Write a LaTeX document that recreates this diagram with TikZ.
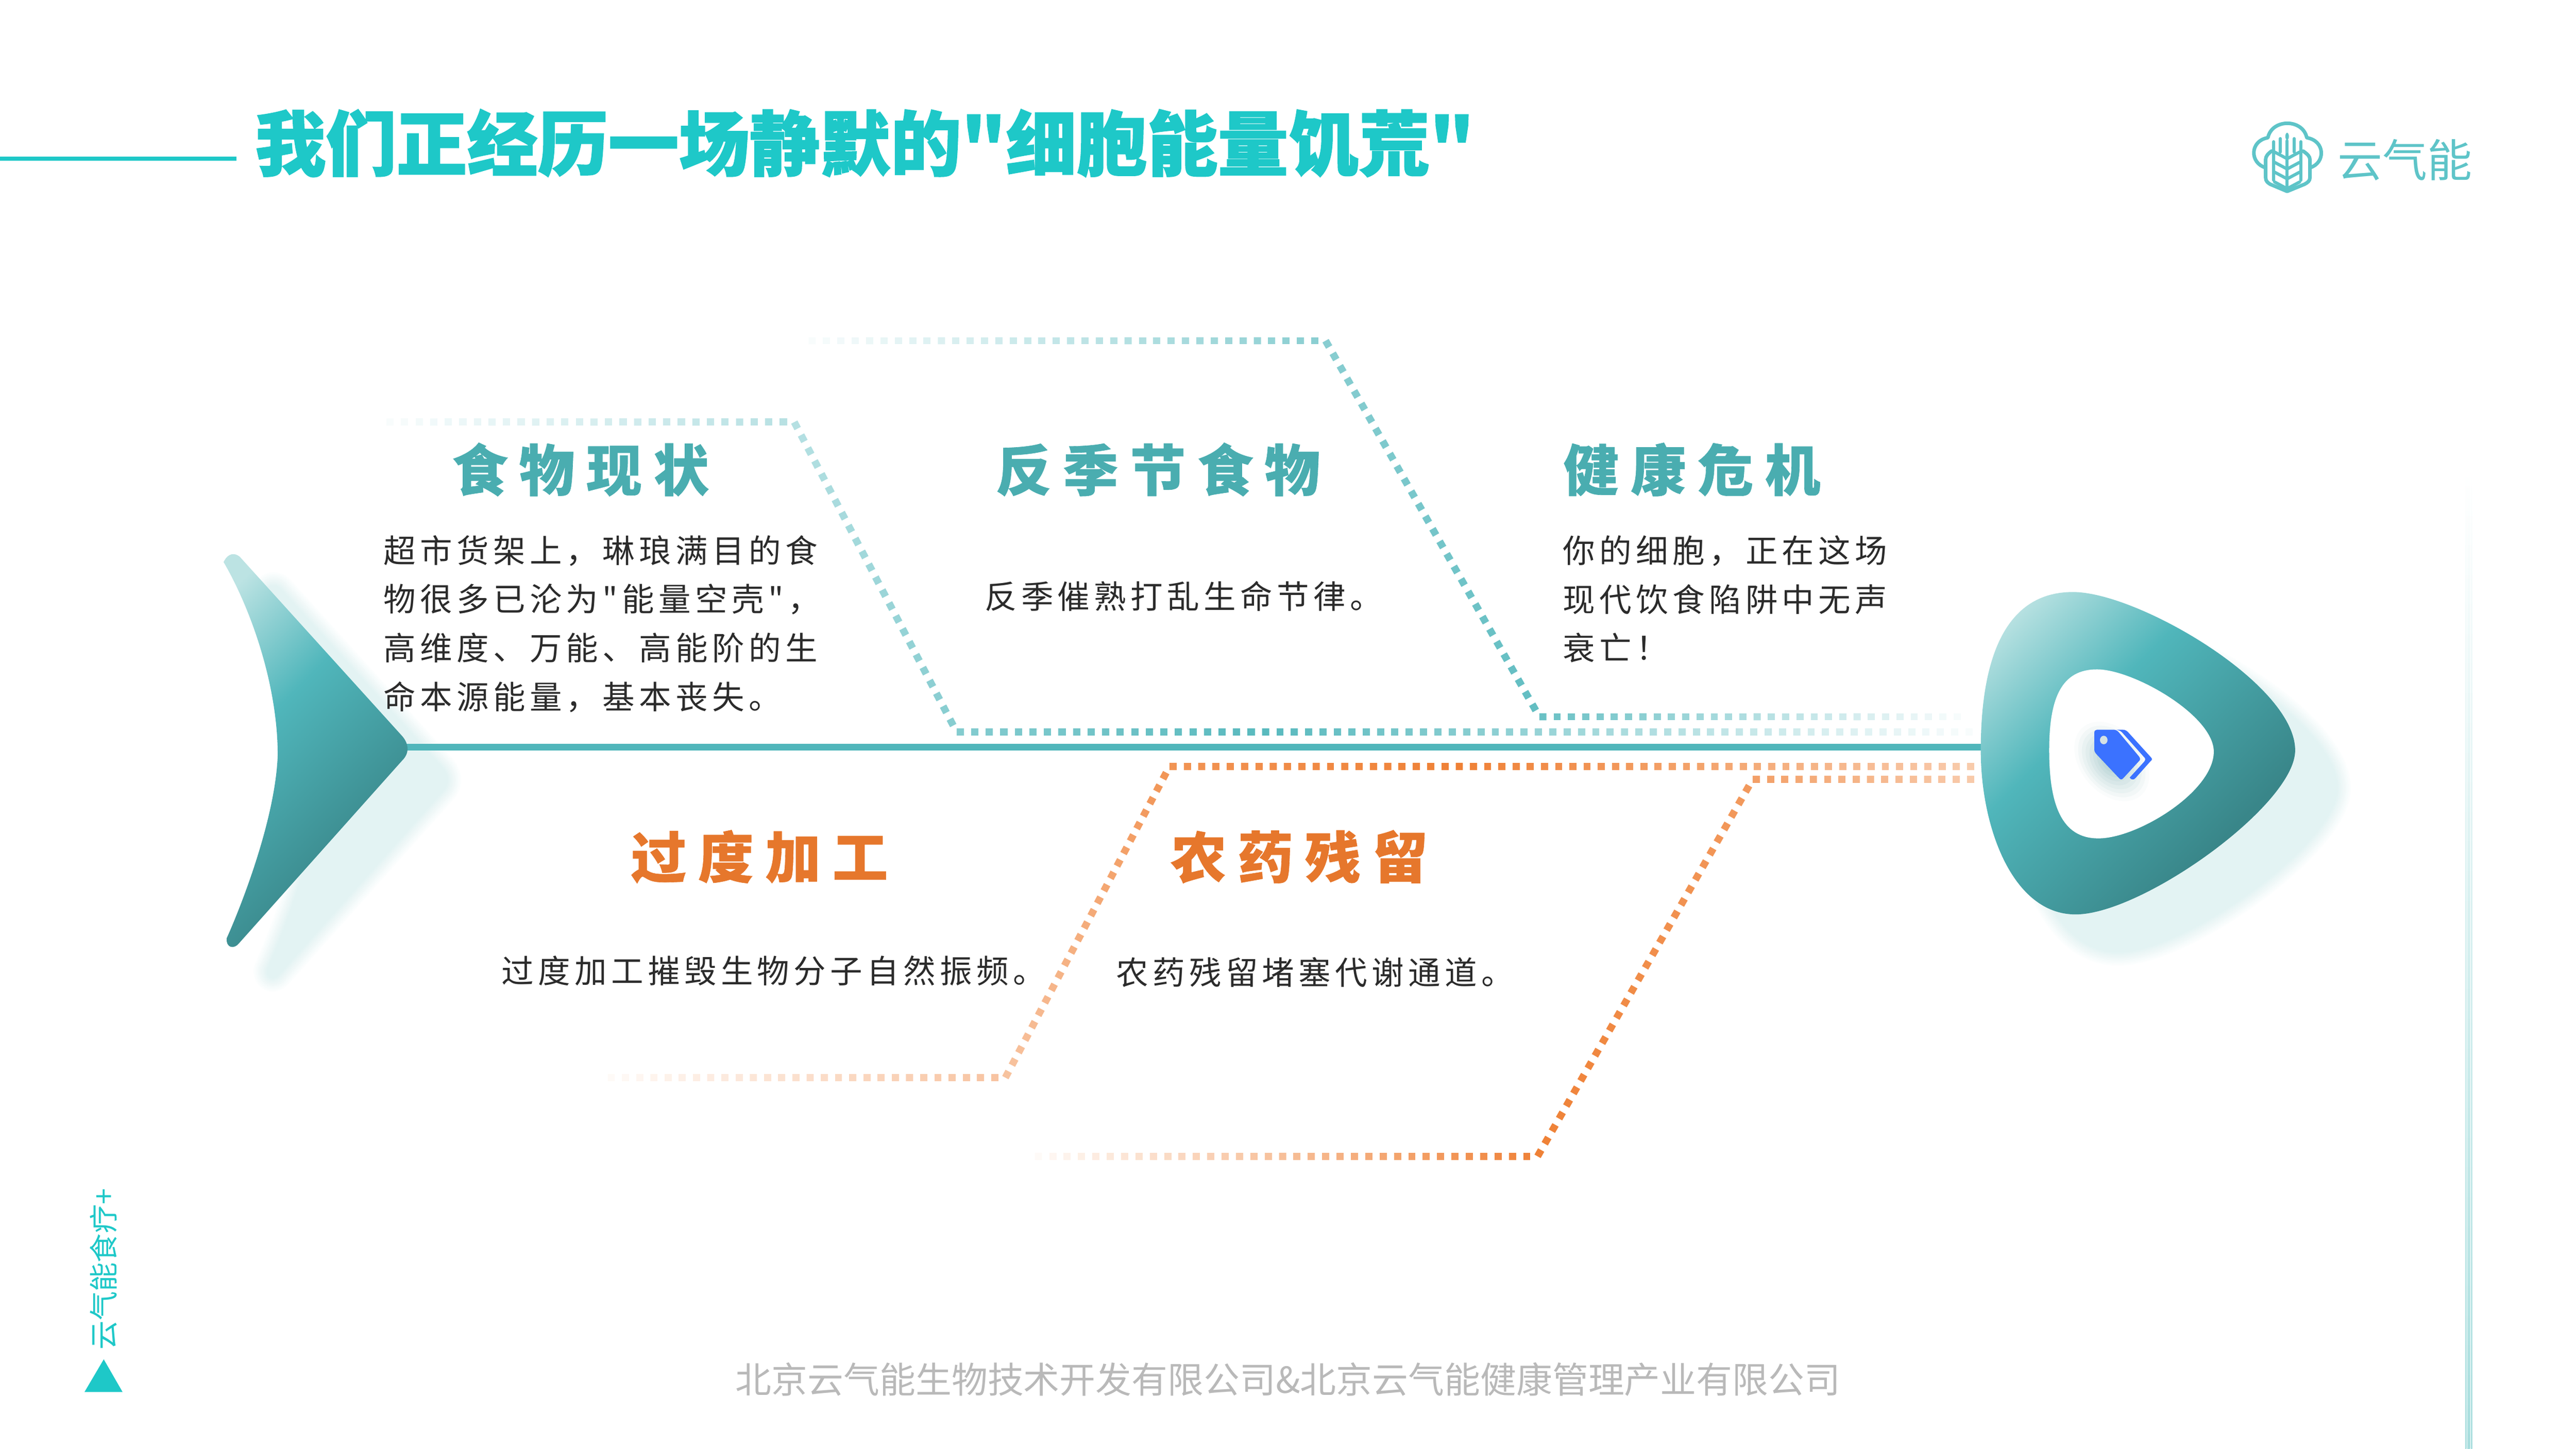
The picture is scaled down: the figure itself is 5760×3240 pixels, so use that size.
\documentclass[tikz,border=0pt]{standalone}
\usepackage{fontspec}
\usepackage{xcolor}
\setmainfont{Noto Sans CJK SC}
\newfontfamily\titlefont{Noto Sans CJK SC}[BoldFeatures={FakeBold=1.5}]
\newfontfamily\headfont{Noto Sans CJK SC}[LetterSpace=21,BoldFeatures={FakeBold=0.6}]
\newfontfamily\bodyfont{Noto Sans CJK SC}[LetterSpace=13.3]
\definecolor{brand}{RGB}{30,200,200}
\definecolor{logoteal}{RGB}{94,196,200}
\definecolor{fishlight}{RGB}{188,227,227}
\definecolor{fishmid}{RGB}{80,182,187}
\definecolor{fishdark}{RGB}{57,134,137}
\definecolor{glow}{RGB}{227,243,243}
\definecolor{headteal}{RGB}{74,173,176}
\definecolor{headorange}{RGB}{230,119,44}
\definecolor{dotorange}{RGB}{239,129,54}
\definecolor{bodygray}{RGB}{43,43,43}
\definecolor{footgray}{RGB}{185,185,185}
\definecolor{tagblue}{RGB}{59,114,255}
\definecolor{tagshade}{RGB}{165,200,202}
\definecolor{tagspot}{RGB}{213,226,228}
\definecolor{stripe}{RGB}{169,222,222}
\usepackage{tikz}
\usetikzlibrary{calc}
\pgfdeclareverticalshading{fishshade}{100bp}{color(0bp)=(fishdark); color(31bp)=(fishdark); color(60bp)=(fishmid); color(80bp)=(fishlight); color(100bp)=(fishlight)}
\tikzstyle{heading} = [
    anchor=west, inner sep=0pt,
    font=\headfont\bfseries\fontsize{35.3pt}{40pt}\selectfont,
]
\tikzstyle{body} = [
    anchor=west, inner sep=0pt, align=left, text=bodygray,
    font=\bodyfont\fontsize{20.5pt}{31pt}\selectfont,
]
\tikzstyle{dot} = [line width=0.16cm]
\tikzstyle{fish} = [shading=fishshade, shading angle=45]
\tikzstyle{emblem} = [draw=logoteal, line width=0.07cm, line join=round, line cap=round]
% one run of square dots, fading from one tint to another
\newcommand{\dotrun}[6]{%
    \pgfmathtruncatemacro{\dotlast}{#6-1}
    \foreach \i [evaluate=\i as \f using \i/#6,
                 evaluate=\i as \g using (\i+0.5)/#6,
                 evaluate=\i as \p using #4+(#5-#4)*\i/#6] in {0,...,\dotlast}
        \draw [dot, draw=#3!\p!white] ($(#1)!\f!(#2)$) -- ($(#1)!\g!(#2)$);
}
% soft edged copy of a path
\newcommand{\softcopy}[1]{%
    \foreach \w [evaluate=\w as \p using 100-9*\w] in {10,...,1}
        \draw [glow!\p!white, fill=glow!\p!white, line join=round, line width=\w*0.06cm] #1;
    \fill [glow] #1;
}
\def\tailpath{(500,1257) .. controls (510,1236) and (525,1236) .. (536,1245) -- (900,1647)
    .. controls (915,1665) and (915,1685) .. (900,1700) -- (534,2110)
    .. controls (525,2122) and (505,2122) .. (507,2098)
    .. controls (520,2070) and (615,1850) .. (621,1689)
    .. controls (621,1530) and (560,1360) .. (500,1257) -- cycle}
\def\headpath{(4429,1678) .. controls (4429,1500) and (4470,1324) .. (4635,1324)
    .. controls (4780,1324) and (5132,1530) .. (5132,1678)
    .. controls (5132,1800) and (4790,2045) .. (4641,2045)
    .. controls (4500,2045) and (4429,1850) .. (4429,1678) -- cycle}

\begin{document}
\begin{tikzpicture}[x=0.01cm,y=-0.01cm]
    \useasboundingbox (0,0) rectangle (5760,3240);

    % title
    \coordinate (rulestart) at (0,355);
    \coordinate (ruleend) at (529,355);
    \draw [brand, line width=0.1cm] (rulestart) -- (ruleend);
    \node (title) at (570,320) [anchor=west, inner sep=0pt, text=brand,
        font=\titlefont\bfseries\fontsize{44.9pt}{50pt}\selectfont]
        {我们正经历一场静默的"细胞能量饥荒"};

    % logo
    \draw [emblem, line width=0.08cm] (5066,375) .. controls (5030,365) and (5030,315) .. (5071,308)
        .. controls (5080,265) and (5149,265) .. (5158,308)
        .. controls (5200,315) and (5200,365) .. (5165,375);
    \draw [emblem, line width=0.08cm] (5079,338) .. controls (5070,345) and (5066,350) .. (5066,357)
        -- (5066,397) .. controls (5066,405) and (5070,408) .. (5076,412) -- (5114,428) -- (5153,412)
        .. controls (5160,408) and (5165,405) .. (5165,397) -- (5165,357)
        .. controls (5165,350) and (5160,345) .. (5150,338);
    \draw [emblem] (5114,315) -- (5114,427);
    \fill [logoteal] (5114,305) ellipse (4 and 8);
    \foreach \x in {5084,5145}
        \draw [emblem] (\x,317) -- (\x,403);
    \foreach \x in {5099,5130}
        \draw [emblem] (\x,310) -- (\x,340);
    \foreach \y in {340,363,385,407}
        \draw [emblem] (5086,\y) -- (5114,\y+15) -- (5142,\y);
    \node (logotext) at (5377,358) [inner sep=0pt, text=logoteal,
        font=\fontsize{28.5pt}{30pt}\selectfont] {云气能};

    % right stripes
    \shade [top color=white, bottom color=stripe] (5512,1053) rectangle (5515,3240);
    \shade [top color=white, bottom color=stripe] (5517,1053) rectangle (5523,3240);
    \shade [top color=white, bottom color=stripe] (5525,1053) rectangle (5528,3240);

    % shadows
    \begin{scope}[shift={(90,70)}]
        \softcopy{\tailpath}
    \end{scope}
    \begin{scope}[shift={(95,85)}]
        \softcopy{\headpath}
    \end{scope}

    % spine
    \coordinate (tailtip) at (905,1671);
    \coordinate (headleft) at (4432,1671);
    \draw [fishmid, line width=0.16cm] (tailtip) -- (headleft);

    % dotted lines
    \coordinate (fooda) at (864,944);
    \coordinate (foodb) at (1776,944);
    \coordinate (foodc) at (2139,1637);
    \coordinate (foodd) at (2822,1637);
    \coordinate (foode) at (4427,1637);
    \dotrun{fooda}{foodb}{fishmid}{4}{42}{28}
    \dotrun{foodb}{foodc}{fishmid}{42}{70}{24}
    \dotrun{foodc}{foodd}{fishmid}{70}{95}{21}
    \dotrun{foodd}{foode}{fishmid}{95}{2}{50}

    \coordinate (seasona) at (1808,762);
    \coordinate (seasonb) at (2964,762);
    \coordinate (seasonc) at (3442,1603);
    \coordinate (seasond) at (4400,1603);
    \dotrun{seasona}{seasonb}{fishmid}{4}{68}{36}
    \dotrun{seasonb}{seasonc}{fishmid}{68}{90}{30}
    \dotrun{seasonc}{seasond}{fishmid}{85}{2}{30}

    \coordinate (procea) at (1359,2410);
    \coordinate (proceb) at (2248,2410);
    \coordinate (procec) at (2615,1714);
    \coordinate (proced) at (3255,1714);
    \coordinate (procee) at (4430,1714);
    \dotrun{procea}{proceb}{dotorange}{4}{48}{28}
    \dotrun{proceb}{procec}{dotorange}{48}{85}{25}
    \dotrun{procec}{proced}{dotorange}{85}{100}{20}
    \dotrun{proced}{procee}{dotorange}{100}{40}{37}

    \coordinate (pesta) at (2314,2586);
    \coordinate (pestb) at (3438,2586);
    \coordinate (pestc) at (3919,1743);
    \coordinate (pestd) at (4430,1743);
    \dotrun{pesta}{pestb}{dotorange}{4}{100}{35}
    \dotrun{pestb}{pestc}{dotorange}{100}{80}{30}
    \dotrun{pestc}{pestd}{dotorange}{75}{40}{16}

    % tail and head
    \shade [fish] \tailpath;
    \shade [fish] \headpath;
    \fill [white] (4582,1678) .. controls (4582,1560) and (4610,1497) .. (4689,1497)
        .. controls (4770,1497) and (4950,1600) .. (4950,1681)
        .. controls (4950,1770) and (4780,1875) .. (4692,1875)
        .. controls (4610,1875) and (4582,1800) .. (4582,1678) -- cycle;

    % tag
    \foreach \r [evaluate=\r as \p using 100-9.5*\r] in {10,...,1}
        \fill [tagshade!\p!white, rotate around={-50:(4722,1703)}] (4722,1703) ellipse (\r*10 and \r*7);
    \fill [tagblue] (4732,1632) -- (4747,1632) .. controls (4752,1632) and (4756,1635) .. (4758,1637)
        -- (4808,1692) .. controls (4813,1697) and (4813,1699) .. (4808,1703)
        -- (4775,1740) .. controls (4771,1745) and (4765,1744) .. (4762,1739)
        -- (4793,1705) .. controls (4798,1700) and (4798,1696) .. (4793,1692)
        -- (4745,1638) .. controls (4742,1635) and (4738,1633) .. (4732,1632) -- cycle;
    \fill [tagblue] (4683,1638) .. controls (4683,1634) and (4686,1632) .. (4689,1632) -- (4727,1632)
        .. controls (4731,1632) and (4735,1635) .. (4737,1637) -- (4783,1692)
        .. controls (4786,1696) and (4786,1700) .. (4782,1703) -- (4748,1740)
        .. controls (4745,1744) and (4741,1744) .. (4738,1740) -- (4688,1687)
        .. controls (4685,1684) and (4683,1680) .. (4683,1677) -- cycle;
    \fill [tagspot] (4704,1655) ellipse (8.5 and 9.5);

    % headings
    \node (foodhead) at (1010,1050) [heading, text=headteal] {食物现状};
    \node (seasonhead) at (2226,1050) [heading, text=headteal] {反季节食物};
    \node (healthhead) at (3495,1050) [heading, text=headteal] {健康危机};
    \node (procehead) at (1410,1916) [heading, text=headorange] {过度加工};
    \node (pesthead) at (2617,1916) [heading, text=headorange] {农药残留};

    % texts
    \node (foodtext) at (857,1395) [body] {超市货架上，琳琅满目的食\\物很多已沦为"能量空壳"，\\高维度、万能、高能阶的生\\命本源能量，基本丧失。};
    \node (seasontext) at (2201,1333) [body] {反季催熟打乱生命节律。};
    \node (healthtext) at (3494,1340) [body] {你的细胞，正在这场\\现代饮食陷阱中无声\\衰亡！};
    \node (procetext) at (1121,2171) [body] {过度加工摧毁生物分子自然振频。};
    \node (pesttext) at (2495,2175) [body] {农药残留堵塞代谢通道。};

    % footer and side mark
    \node (footer) at (2880,3085) [inner sep=0pt, text=footgray,
        font=\fontsize{22.9pt}{26pt}\selectfont]
        {北京云气能生物技术开发有限公司\&北京云气能健康管理产业有限公司};
    \node (sidemark) at (232,2838) [inner sep=0pt, rotate=90, text=brand,
        font=\fontsize{18.5pt}{22pt}\selectfont] {云气能食疗+};
    \fill [brand] (189,3113) -- (274,3113) -- (232,3040) -- cycle;
\end{tikzpicture}
\end{document}
